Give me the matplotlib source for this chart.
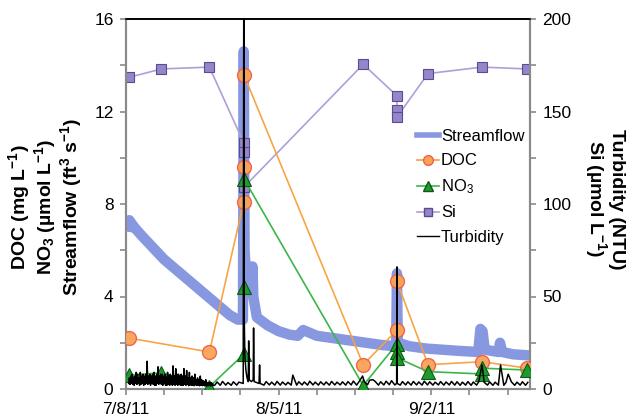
import numpy as np
import matplotlib
matplotlib.use('Agg')
import matplotlib.pyplot as plt
from matplotlib.lines import Line2D
from matplotlib.ticker import MultipleLocator

plt.rcParams['font.family'] = ['Liberation Sans', 'DejaVu Sans']
plt.rcParams['mathtext.default'] = 'regular'

# x values are days after 7/8/11
tick_days = [0, 28, 56]
tick_labels = ['7/8/11', '8/5/11', '9/2/11']

# grab samples
si_days = [0.6, 6.5, 15.3, 21.6, 21.6, 21.6, 43.5, 49.7, 49.7, 49.7, 55.4, 65.3, 73.6]
si_umol = [168.5, 173, 174, 133, 128, 109, 175.5, 158.5, 151, 147, 170.5, 174, 173]

doc_days = [0.6, 15.3, 21.6, 21.6, 21.6, 43.5, 49.7, 49.7, 55.4, 65.3, 73.6]
doc_mg = [2.2, 1.6, 8.1, 9.6, 13.6, 1.05, 2.55, 4.65, 1.05, 1.18, 0.9]

no3_days = [0.6, 6.5, 15.3, 21.6, 21.6, 21.6, 43.5, 49.7, 49.7, 49.7, 55.4, 65.3, 65.3, 73.6]
no3_umol = [0.6, 0.7, 0.1, 1.5, 4.4, 9.1, 0.15, 1.95, 1.6, 1.35, 0.75, 0.65, 0.9, 0.82]

# streamflow (ft3/s)
flow_days = [0.3, 0.6, 1.5, 3, 5, 7, 9, 11, 13, 15, 17, 19, 20.5, 21.45, 21.6, 21.75,
             22.2, 22.8, 23.1, 23.2, 23.35, 24, 26, 28, 30, 31.5, 32.5, 33.5, 35, 38,
             41, 44, 47, 49.55, 49.7, 49.85, 52, 55, 58, 61, 64.6, 65.0, 65.4, 65.8,
             68.3, 68.6, 69.0, 71, 74.1]
flow_cfs = [6.8, 7.3, 7.0, 6.6, 6.1, 5.6, 5.2, 4.8, 4.4, 4.0, 3.6, 3.2, 3.0, 3.0, 14.6, 6.0,
            4.3, 4.1, 4.2, 5.3, 4.0, 3.1, 2.75, 2.5, 2.35, 2.3, 2.55, 2.45, 2.3, 2.2,
            2.1, 2.0, 1.9, 1.85, 5.0, 2.0, 1.85, 1.75, 1.7, 1.65, 1.6, 2.6, 2.5, 1.7,
            1.6, 2.0, 1.6, 1.5, 1.45]

# turbidity (NTU): every 3 h for day 0.5-16, then daily low/high, plus storm spikes
turb_early = [3, 6, 2.5, 7, 3, 8, 2.5, 6,
              2, 7, 3, 9, 2.5, 8, 3, 6,
              2, 9, 2.5, 7, 3, 8, 2, 7,
              2.5, 8, 3, 15, 2.5, 7, 3, 8,
              2, 7, 3, 8, 2.5, 9, 2, 7,
              2, 8, 3, 12, 2.5, 7, 3, 8,
              2.5, 8, 2, 7, 3, 8, 2, 6,
              2, 9, 2.5, 7, 2, 8, 2.5, 7,
              2, 12.5, 2.5, 7, 2, 11, 2.5, 8,
              2, 8, 2.5, 7, 2, 8, 2, 7,
              2, 11, 2.5, 7, 2, 10, 2.5, 6,
              1.8, 9, 2.2, 6, 2, 7, 2, 6,
              1.8, 8, 2.2, 5, 2, 6, 2, 5,
              1.7, 7, 2, 5, 1.8, 4.5, 2, 4,
              1.6, 5, 1.8, 3.5, 1.7, 3.5, 1.8, 3.5,
              1.7, 3.5, 1.8, 3,
              1.8]
turb_low = [2.1, 2.0, 2.1, 2.0, 2.1, 2.0, 2.1, 2.1, 2.0, 2.1, 2.2, 2.1, 2.1, 2.2, 2.1,
            2.1, 2.2, 2.1, 2.2, 2.1, 2.2, 2.1, 2.2, 2.2, 2.1, 2.2, 2.1, 2.2, 2.3, 2.2,
            2.1, 2.2, 2.3, 2.2, 2.1, 2.2, 2.1, 2.2, 2.1, 2.2, 2.1, 2.2, 2.1, 2.2, 2.1,
            2.0, 2.1, 2.0, 2.1, 2.0, 2.1, 2.0, 2.1, 2.0, 2.1, 2.0, 2.1, 2.0]
turb_high = [3.8, 4.1, 3.5, 3.9, 3.7, 4.2, 3.8, 3.6, 3.9, 4.0, 3.7, 4.1, 3.8, 3.6, 4.5,
             3.9, 3.8, 4.2, 3.7, 3.9, 3.8, 4.1, 3.7, 3.9, 4.0, 4.3, 3.8, 3.9, 4.8, 4.1,
             3.9, 4.2, 4.5, 3.8, 4.0, 3.9, 4.1, 3.8, 4.2, 3.9, 3.7, 4.0, 3.8, 4.1, 3.9,
             3.7, 4.0, 3.8, 3.9, 3.6, 3.8, 3.7, 3.9, 3.6, 3.8, 3.7, 3.9, 3.6]
spike_days = [21.5, 21.6, 21.68, 21.8, 22.0, 22.2, 22.42, 22.5, 22.6, 23.0, 23.33, 23.4,
              23.5, 24.4, 24.5, 24.6, 30.6, 43.4, 45.3, 49.64, 49.7, 49.76, 65.3, 68.7, 70.1]
spike_ntu = [3, 215, 40, 18, 10, 6, 4, 26, 5, 4, 5, 33,
             4, 3, 13, 3, 7.5, 7, 5, 3, 66, 3, 13, 13, 8]

# build turbidity series
early_days = np.arange(0.5, 16.01, 0.125)
base_days = np.concatenate([np.arange(16, 74) + 0.3, np.arange(16, 74) + 0.7])
base_ntu = np.concatenate([turb_low, turb_high])
sd = np.array(spike_days)
keep = np.min(np.abs(base_days[:, None] - sd[None, :]), axis=1) > 0.3
t_days = np.concatenate([early_days, base_days[keep], sd])
t_ntu = np.concatenate([turb_early, base_ntu[keep], spike_ntu])
order = np.argsort(t_days)
t_days, t_ntu = t_days[order], t_ntu[order]

flow_col = '#8898e0'
doc_face, doc_edge, doc_line = '#f8a457', '#ef5f4a', '#f6a13a'
no3_face, no3_edge, no3_line = '#1f9a2f', '#0d5a16', '#3cb54a'
si_face, si_edge, si_line = '#9585c9', '#5b4b92', '#ae9fd8'

fig = plt.figure(figsize=(6.28, 4.18), dpi=100)
ax = fig.add_axes([126 / 628, 29 / 418, 404 / 628, 370 / 418])
ax2 = ax.twinx()
ax.set_zorder(ax2.get_zorder() + 1)
ax.patch.set_visible(False)

ax.plot(flow_days, flow_cfs, color=flow_col, lw=7.5, solid_capstyle='butt', zorder=1)
ax.plot(si_days, si_umol, color=si_line, lw=1.2, marker='s', ms=7.5,
        mfc=si_face, mec=si_edge, mew=0.8, transform=ax2.transData, zorder=2)
ax.plot(doc_days, doc_mg, color=doc_line, lw=1.2, marker='o', ms=10,
        mfc=doc_face, mec=doc_edge, mew=1.0, alpha=0.95, zorder=3)
ax.plot(no3_days, no3_umol, color=no3_line, lw=1.2, marker='^', ms=9.5,
        mfc=no3_face, mec=no3_edge, mew=0.8, zorder=4)
# turbidity belongs to the right axis but is drawn on top of everything
ax.plot(t_days, t_ntu, color='black', lw=1.1, transform=ax2.transData, zorder=5)

ax.set_xlim(0, 74.1)
ax.set_ylim(0, 16)
ax2.set_ylim(0, 200)
ax.set_xticks(tick_days)
ax.set_xticklabels(tick_labels)
ax.xaxis.set_minor_locator(MultipleLocator(7))
ax.yaxis.set_major_locator(MultipleLocator(4))
ax.yaxis.set_minor_locator(MultipleLocator(2))
ax2.yaxis.set_major_locator(MultipleLocator(50))
ax2.yaxis.set_minor_locator(MultipleLocator(25))

grey = '#8a8a8a'
for a in (ax, ax2):
    a.tick_params(which='both', direction='out', length=4, width=1.2, color=grey,
                  labelsize=12.5, pad=5)
    for side in ('left', 'right', 'bottom'):
        a.spines[side].set_color(grey)
        a.spines[side].set_linewidth(1.5)
    a.spines['top'].set_color('black')
    a.spines['top'].set_linewidth(1.2)

handles = [Line2D([], [], color=flow_col, lw=4),
           Line2D([], [], color=doc_line, lw=1.2, marker='o', ms=7, mfc=doc_face, mec=doc_edge),
           Line2D([], [], color=no3_line, lw=1.2, marker='^', ms=7, mfc=no3_face, mec=no3_edge),
           Line2D([], [], color=si_line, lw=1.2, marker='s', ms=6, mfc=si_face, mec=si_edge),
           Line2D([], [], color='black', lw=1.0)]
labels = ['Streamflow', 'DOC', 'NO$_3$', 'Si', 'Turbidity']
ax.legend(handles, labels, loc='center left', bbox_to_anchor=(0.72, 0.546), frameon=False,
          fontsize=12, handlelength=1.3, handletextpad=0.15, labelspacing=0.55,
          borderpad=0, borderaxespad=0)

fig.text(45 / 628, 1 - 207 / 418,
         'DOC (mg L$^{-1}$)\nNO$_3$ (µmol L$^{-1}$)\nStreamflow (ft$^3$ s$^{-1}$)',
         rotation=90, ha='center', va='center', fontsize=14, fontweight='bold',
         linespacing=1.0, multialignment='center')
fig.text(604 / 628, 1 - 199 / 418, 'Turbidity (NTU)\nSi (µmol L$^{-1}$)',
         rotation=270, ha='center', va='center', fontsize=14, fontweight='bold',
         linespacing=1.0, multialignment='center')

fig.savefig('out.png', dpi=100)
